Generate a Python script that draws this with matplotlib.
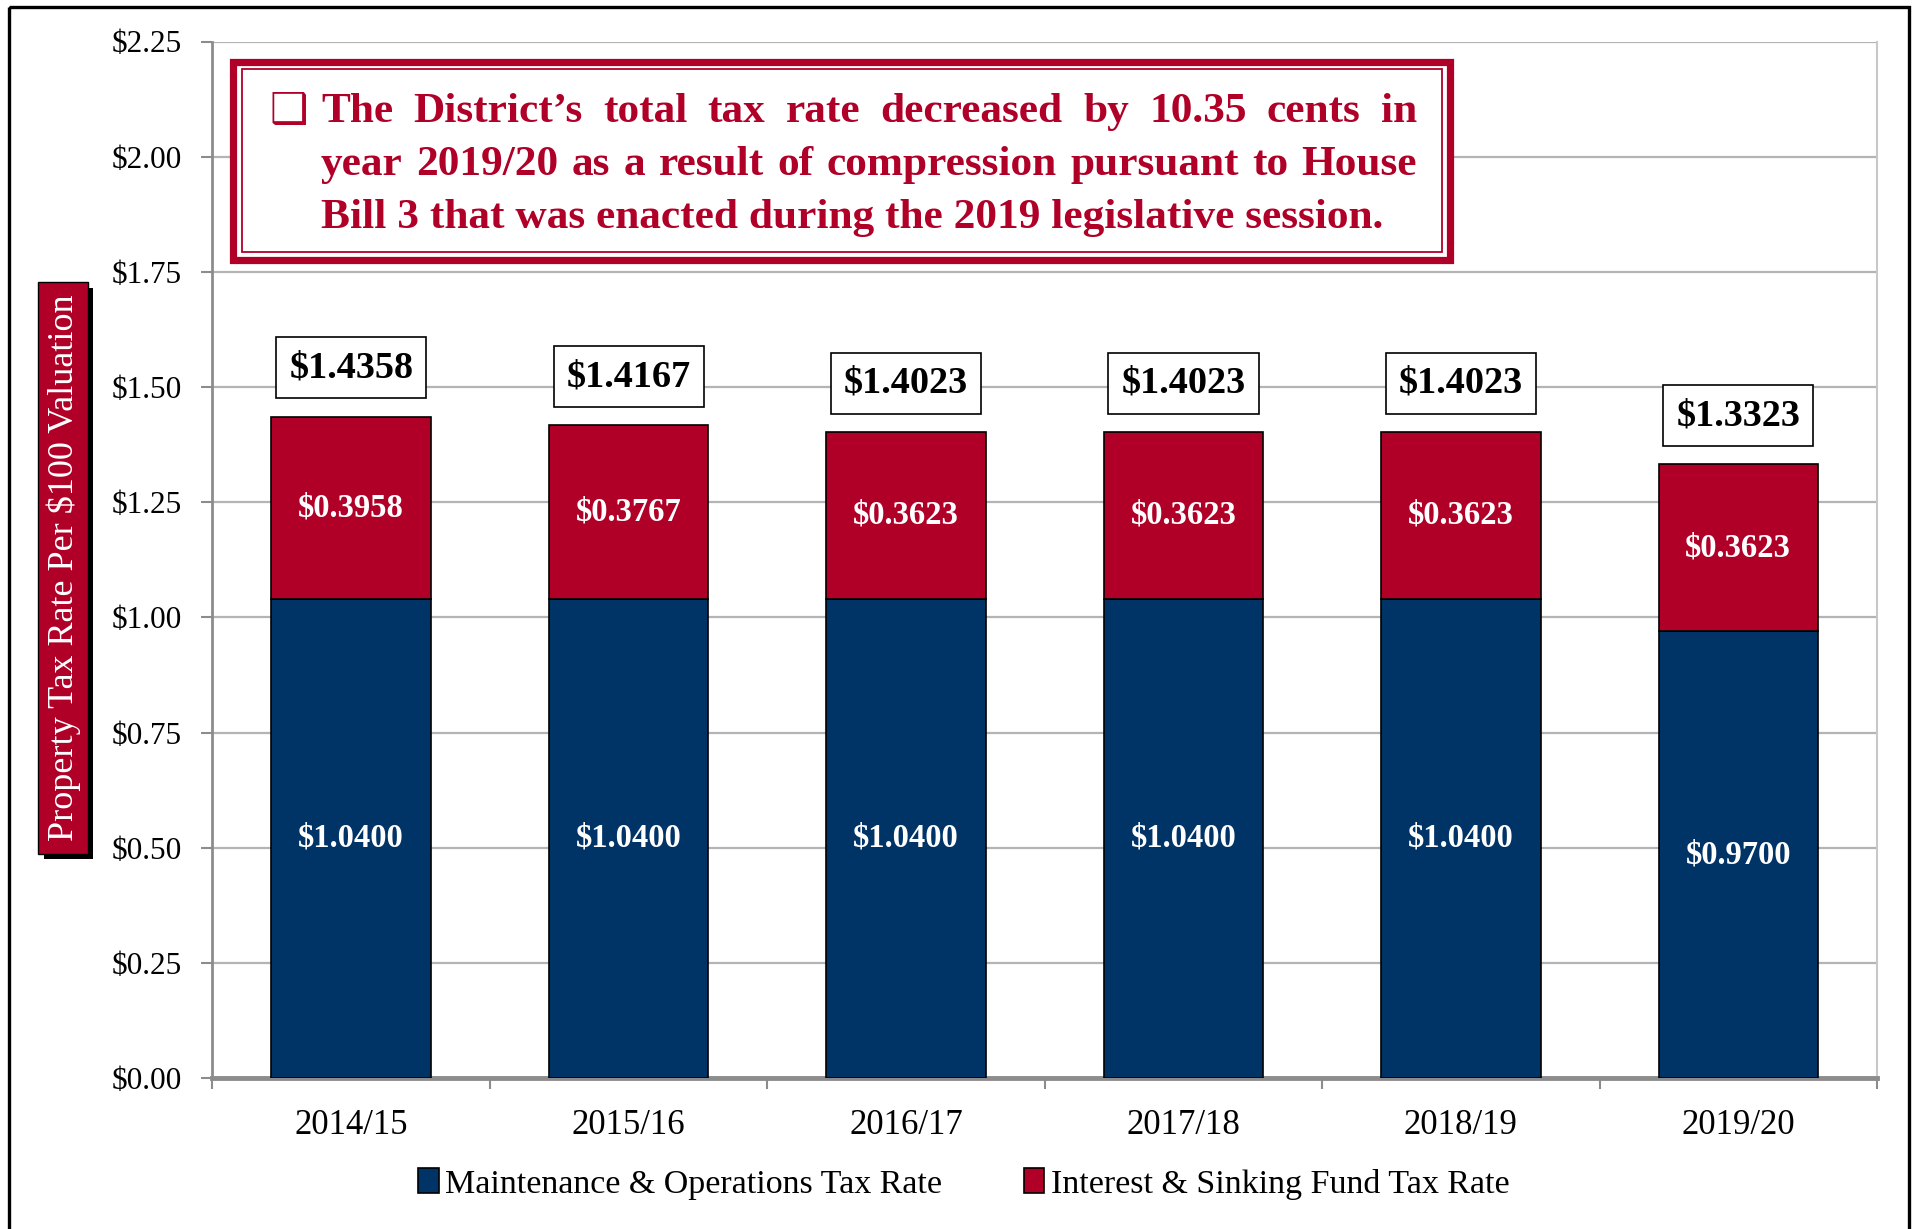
import matplotlib
matplotlib.use('Agg')
import matplotlib.pyplot as plt
from matplotlib.patches import Rectangle, Patch
import numpy as np

# data
years = ['2014/15', '2015/16', '2016/17', '2017/18', '2018/19', '2019/20']
mo_rate = [1.0400, 1.0400, 1.0400, 1.0400, 1.0400, 0.9700]
is_rate = [0.3958, 0.3767, 0.3623, 0.3623, 0.3623, 0.3623]
y_ticks = [0.0, 0.25, 0.5, 0.75, 1.0, 1.25, 1.5, 1.75, 2.0, 2.25]
legend_labels = ['Maintenance & Operations Tax Rate', 'Interest & Sinking Fund Tax Rate']
y_label = 'Property Tax Rate Per $100 Valuation'
note_lines = [
    'The District\u2019s total tax rate decreased by 10.35 cents in',
    'year 2019/20 as a result of compression pursuant to House',
    'Bill 3 that was enacted during the 2019 legislative session.',
]

NAVY = '#003366'
RED = '#B00028'
GRID = '#b4b4b4'
AXIS = '#8c8c8c'

plt.rcParams['font.family'] = ['Liberation Serif', 'DejaVu Serif', 'DejaVu Sans']

W, H = 1915, 1229
fig = plt.figure(figsize=(W / 100, H / 100), dpi=100)

# main plot area (pixel box 212..1877 x 41..1078)
ax = fig.add_axes([212.5 / W, 1 - 1078 / H, (1877 - 212.5) / W, (1078 - 41.5) / H])
x = np.arange(len(years))
totals = np.array(mo_rate) + np.array(is_rate)

bw = 0.575
b1 = ax.bar(x, mo_rate, width=bw, color=NAVY, edgecolor='black', linewidth=1.2, zorder=3)
b2 = ax.bar(x, is_rate, bottom=mo_rate, width=bw, color=RED, edgecolor='black',
            linewidth=1.2, zorder=3)

for i in range(len(x)):
    ax.text(x[i], mo_rate[i] / 2, f'${mo_rate[i]:.4f}', ha='center', va='center',
            color='white', fontsize=23.5, fontweight='bold', zorder=4)
    ax.text(x[i], mo_rate[i] + is_rate[i] / 2, f'${is_rate[i]:.4f}', ha='center',
            va='center', color='white', fontsize=23.5, fontweight='bold', zorder=4)
    ax.annotate(f'${totals[i]:.4f}', (x[i], totals[i]), xytext=(0, 35),
                textcoords='offset points', ha='center', va='center', fontsize=27.5,
                fontweight='bold', zorder=5,
                bbox=dict(boxstyle='square,pad=0.34', fc='white', ec='black', lw=1.2))

ax.set_xlim(-0.5, len(years) - 0.5)
ax.set_ylim(0, 2.25)
ax.set_yticks(y_ticks)
ax.set_yticklabels([f'${v:.2f}' for v in y_ticks], fontsize=22.5)
ax.set_xticks(x)
ax.set_xticklabels(years, fontsize=25)
ax.set_xticks(np.arange(-0.5, len(years)), minor=True)
ax.tick_params(axis='x', which='major', length=0, pad=22)
ax.tick_params(axis='x', which='minor', length=8, width=1.5, color=AXIS, direction='out')
ax.tick_params(axis='y', length=8, width=1.5, color=AXIS, pad=14)

ax.grid(axis='y', color=GRID, linewidth=1.6)
ax.set_axisbelow(True)
ax.spines['top'].set_visible(False)
ax.spines['right'].set_color('#c8c8c8')
ax.spines['right'].set_linewidth(1.5)
ax.spines['left'].set_color(AXIS)
ax.spines['left'].set_linewidth(2)
ax.spines['bottom'].set_color(AXIS)
ax.spines['bottom'].set_linewidth(3.5)

handles = [Patch(facecolor=NAVY, edgecolor='black', lw=1.2),
           Patch(facecolor=RED, edgecolor='black', lw=1.2)]
fig.legend(handles, legend_labels, loc='center', bbox_to_anchor=(964 / W, 1 - 1184 / H),
           ncol=2, frameon=False, fontsize=24.5, handlelength=0.6, handleheight=0.75,
           handletextpad=0.2, columnspacing=2.4)

# overlay in pixel coordinates for frame, y label box and note box
ov = fig.add_axes([0, 0, 1, 1], zorder=10)
ov.set_xlim(0, W)
ov.set_ylim(H, 0)
ov.axis('off')
ov.patch.set_alpha(0)

# outer frame
ov.add_patch(Rectangle((9, 7), 1900, 1260, fill=False, ec='black', lw=2.4))

# y label in red box with black shadow
ov.add_patch(Rectangle((44, 288), 49, 571, fc='black', ec='none'))
ov.add_patch(Rectangle((38, 282), 50, 572, fc=RED, ec='black', lw=1.0))
ov.text(64, 568, y_label, rotation=90, ha='center', va='center', color='white', fontsize=26)

# note box
ov.add_patch(Rectangle((230, 58), 1224, 205, fc='white', ec='none'))
ov.add_patch(Rectangle((233.5, 61.5), 1217, 198, fill=False, ec=RED, lw=5.2))
ov.add_patch(Rectangle((242, 69), 1200, 183, fill=False, ec=RED, lw=1.3))
ov.text(269, 123, '\u2751', fontsize=31, color=RED, family='DejaVu Sans',
        ha='left', va='baseline')

renderer = fig.canvas.get_renderer()
x0, x1 = 321, 1417
baselines = [122, 175, 228]

# fit font size so the last (unjustified) line spans its width in the reference
probe = ov.text(0, 0, note_lines[2], fontsize=28, fontweight='bold')
pw = probe.get_window_extent(renderer).width
probe.remove()
note_fs = 28 * 1063 / pw

for li, line in enumerate(note_lines):
    if li == len(note_lines) - 1:
        ov.text(x0, baselines[li], line, fontsize=note_fs, fontweight='bold', color=RED,
                ha='left', va='baseline')
        continue
    words = line.split(' ')
    arts = [ov.text(0, baselines[li], w, fontsize=note_fs, fontweight='bold', color=RED,
                    ha='left', va='baseline') for w in words]
    widths = [a.get_window_extent(renderer).width for a in arts]
    gap = (x1 - x0 - sum(widths)) / (len(words) - 1)
    cx = x0
    for a, w in zip(arts, widths):
        a.set_x(cx)
        cx += w + gap

fig.savefig('out.png', dpi=100, facecolor='white')
